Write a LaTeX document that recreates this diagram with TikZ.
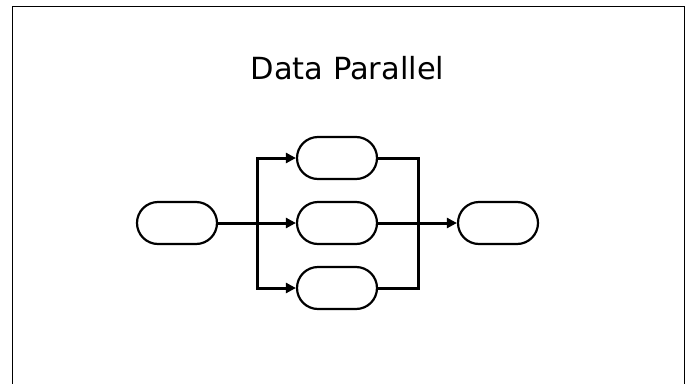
\documentclass[tikz,border=0pt]{standalone}
\usepackage{fontspec}
\setmainfont{DejaVu Sans}
\usetikzlibrary{arrows.meta}
\begin{document}
\begin{tikzpicture}[x=1pt,y=-1pt,
  proc/.style={draw,line width=2.2pt,minimum width=80pt,minimum height=42pt,rounded corners=21pt,inner sep=0pt},
  conn/.style={line width=3pt},
  arr/.style={conn,-{Triangle[length=10pt,width=10pt]}}]
\useasboundingbox (0,0) rectangle (685,383);
\draw[line width=1.2pt] (12.5,6.5) rectangle (684.5,420);
\node[font=\fontsize{30.5}{36}\selectfont] (title) at (347.5,68) {Data Parallel};
\node[proc] (in) at (177,223) {};
\node[proc] (p1) at (337,158) {};
\node[proc] (p2) at (337,223) {};
\node[proc] (p3) at (337,288) {};
\node[proc] (out) at (498,223) {};
\coordinate (split) at (257,223);
\coordinate (join) at (418,223);
\draw[arr] (in.east) -- (p2.west);
\draw[arr] (split) |- (p1.west);
\draw[arr] (split) |- (p3.west);
\draw[conn] (p1.east) -| (join);
\draw[conn] (p3.east) -| (join);
\draw[arr] (p2.east) -- (out.west);
\end{tikzpicture}
\end{document}
